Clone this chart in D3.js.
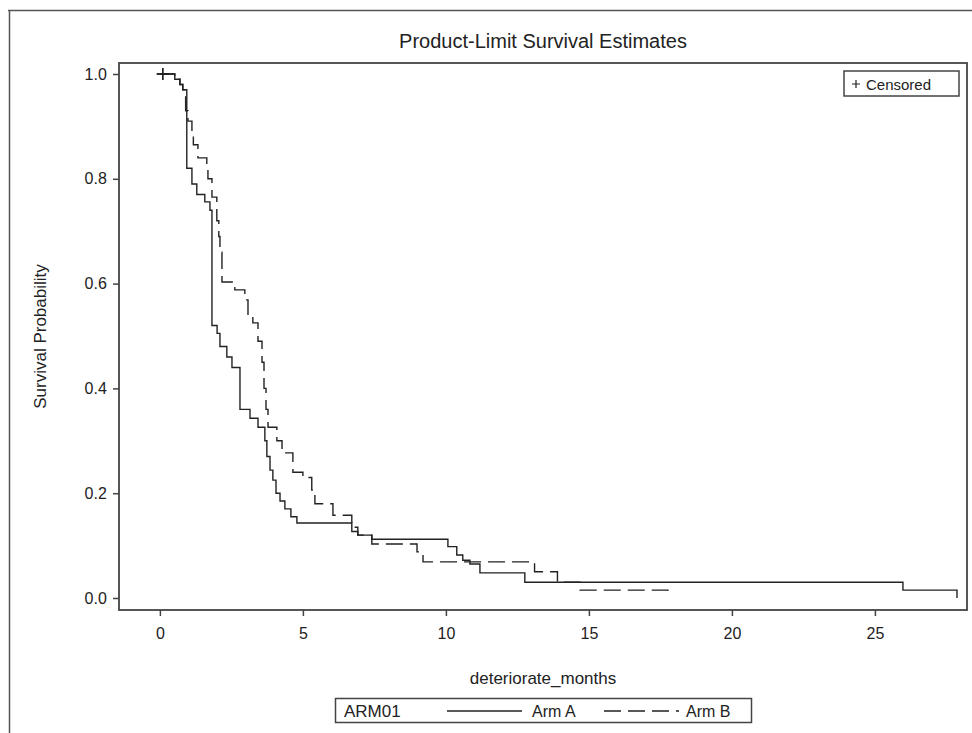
<!DOCTYPE html>
<html>
<head>
<meta charset="utf-8">
<script src="https://cdn.jsdelivr.net/npm/d3@7"></script>
<style>
  html, body { margin: 0; padding: 0; background: #fff; }
  svg { display: block; font-family: "Liberation Sans", Arial, sans-serif; }
</style>
</head>
<body>
<svg id="chart" width="972" height="733"></svg>
<script>
// ---- Data ----
const armATimes = [0, 0.52, 0.70, 0.80, 0.94, 1.12, 1.29, 1.57, 1.75, 1.82, 2.0, 2.1, 2.34, 2.52, 2.8, 3.15, 3.43, 3.67, 3.74, 3.85, 3.95, 4.06, 4.2, 4.37, 4.58, 4.79, 6.71, 6.92, 7.41, 10.07, 10.38, 10.59, 10.84, 11.19, 12.76, 25.98, 27.87];
const armASurv  = [1.0, 0.99, 0.98, 0.97, 0.82, 0.79, 0.77, 0.756, 0.74, 0.52, 0.505, 0.48, 0.46, 0.44, 0.36, 0.343, 0.326, 0.30, 0.27, 0.244, 0.225, 0.20, 0.185, 0.17, 0.155, 0.143, 0.127, 0.12, 0.112, 0.098, 0.082, 0.072, 0.065, 0.048, 0.03, 0.015, 0.0];
const armBTimes = [0, 0.52, 0.70, 0.80, 0.90, 0.98, 1.12, 1.17, 1.33, 1.64, 1.68, 1.82, 1.99, 2.06, 2.1, 2.17, 2.62, 2.97, 3.08, 3.25, 3.43, 3.57, 3.64, 3.71, 3.78, 4.09, 4.27, 4.65, 5.0, 5.31, 5.42, 6.05, 6.71, 6.92, 7.41, 8.99, 9.2, 13.1, 13.9, 14.69, 17.76];
const armBSurv  = [1.0, 0.99, 0.98, 0.97, 0.93, 0.91, 0.89, 0.865, 0.84, 0.82, 0.80, 0.765, 0.72, 0.69, 0.66, 0.603, 0.588, 0.569, 0.54, 0.525, 0.49, 0.45, 0.40, 0.36, 0.326, 0.30, 0.277, 0.24, 0.23, 0.206, 0.18, 0.158, 0.135, 0.12, 0.103, 0.088, 0.069, 0.05, 0.03, 0.015, 0.0];
const censoredTimes = [0.1, 0.1];
const censoredSurv  = [1.0, 1.0];
const xTicks = [0, 5, 10, 15, 20, 25];
const yTicks = [0.0, 0.2, 0.4, 0.6, 0.8, 1.0];
const seriesNames = ["Arm A", "Arm B"];

const svg = d3.select("#chart");
const ink = "#222";
const frameCol = "#444";

// outer border (cropped graph border)
svg.append("line").attr("x1", 8).attr("x2", 972).attr("y1", 10.5).attr("y2", 10.5).attr("stroke", "#555").attr("stroke-width", 1.5);
svg.append("line").attr("x1", 9.5).attr("x2", 9.5).attr("y1", 10).attr("y2", 733).attr("stroke", "#555").attr("stroke-width", 1.5);

const L = 119, R = 967, T = 63, B = 610;
const x = d3.scaleLinear().domain([-1.43, 28.22]).range([L, R]);
const y = d3.scaleLinear().domain([-0.0229, 1.021]).range([B, T]);

// title
svg.append("text").attr("x", (L + R) / 2).attr("y", 48).attr("text-anchor", "middle")
  .attr("font-size", 20).attr("fill", ink).text("Product-Limit Survival Estimates");

// axes
const xAxis = svg.append("g").attr("transform", `translate(0,${B})`)
  .call(d3.axisBottom(x).tickValues(xTicks).tickFormat(d3.format("d")).tickSize(6).tickSizeOuter(0));
const yAxis = svg.append("g").attr("transform", `translate(${L},0)`)
  .call(d3.axisLeft(y).tickValues(yTicks).tickFormat(d3.format(".1f")).tickSize(6).tickSizeOuter(0));
[xAxis, yAxis].forEach(g => {
  g.select(".domain").remove();
  g.selectAll(".tick line").attr("stroke", frameCol).attr("stroke-width", 1.5);
  g.selectAll(".tick text").attr("font-size", 16).attr("fill", ink).attr("font-family", "Liberation Sans, Arial, sans-serif");
});
xAxis.selectAll(".tick text").attr("dy", "1.25em");
yAxis.selectAll(".tick text").attr("dx", "-0.2em");

// frame
svg.append("rect").attr("x", L).attr("y", T).attr("width", R - L).attr("height", B - T)
  .attr("fill", "none").attr("stroke", frameCol).attr("stroke-width", 1.8);

// axis labels
svg.append("text").attr("x", (L + R) / 2).attr("y", 684).attr("text-anchor", "middle")
  .attr("font-size", 17).attr("fill", ink).text("deteriorate_months");
svg.append("text").attr("transform", `translate(46,${(T + B) / 2}) rotate(-90)`).attr("text-anchor", "middle")
  .attr("font-size", 17).attr("fill", ink).text("Survival Probability");

// curves
const line = d3.line().x(d => x(d[0])).y(d => y(d[1])).curve(d3.curveStepAfter);
const dataA = armATimes.map((t, i) => [t, armASurv[i]]);
const dataB = armBTimes.map((t, i) => [t, armBSurv[i]]);
svg.append("path").datum(dataA).attr("d", line).attr("fill", "none").attr("stroke", ink).attr("stroke-width", 1.4);
svg.append("path").datum(dataB).attr("d", line).attr("fill", "none").attr("stroke", ink).attr("stroke-width", 1.4)
  .attr("stroke-dasharray", "17,7");

// censored marks
censoredTimes.forEach((t, i) => {
  const cx = x(t), cy = y(censoredSurv[i]);
  svg.append("path").attr("d", `M${cx - 6},${cy}H${cx + 6}M${cx},${cy - 6}V${cy + 6}`)
    .attr("stroke", ink).attr("stroke-width", 1.4);
});

// censored legend
svg.append("rect").attr("x", 844).attr("y", 71).attr("width", 115).attr("height", 25)
  .attr("fill", "#fff").attr("stroke", frameCol).attr("stroke-width", 1.5);
svg.append("path").attr("d", "M852,84H860M856,80V88").attr("stroke", ink).attr("stroke-width", 1.2);
svg.append("text").attr("x", 866).attr("y", 90).attr("font-size", 15).attr("fill", ink).text("Censored");

// bottom legend
svg.append("rect").attr("x", 335.5).attr("y", 698.5).attr("width", 416).attr("height", 24)
  .attr("fill", "#fff").attr("stroke", frameCol).attr("stroke-width", 1.5);
svg.append("text").attr("x", 344).attr("y", 717).attr("font-size", 17).attr("fill", ink).text("ARM01");
svg.append("line").attr("x1", 447).attr("x2", 522).attr("y1", 711).attr("y2", 711).attr("stroke", ink).attr("stroke-width", 1.4);
svg.append("text").attr("x", 532).attr("y", 717).attr("font-size", 16).attr("fill", ink).text(seriesNames[0]);
svg.append("line").attr("x1", 604).attr("x2", 679).attr("y1", 711).attr("y2", 711).attr("stroke", ink).attr("stroke-width", 1.4)
  .attr("stroke-dasharray", "17,7");
svg.append("text").attr("x", 686).attr("y", 717).attr("font-size", 16).attr("fill", ink).text(seriesNames[1]);
</script>
</body>
</html>
